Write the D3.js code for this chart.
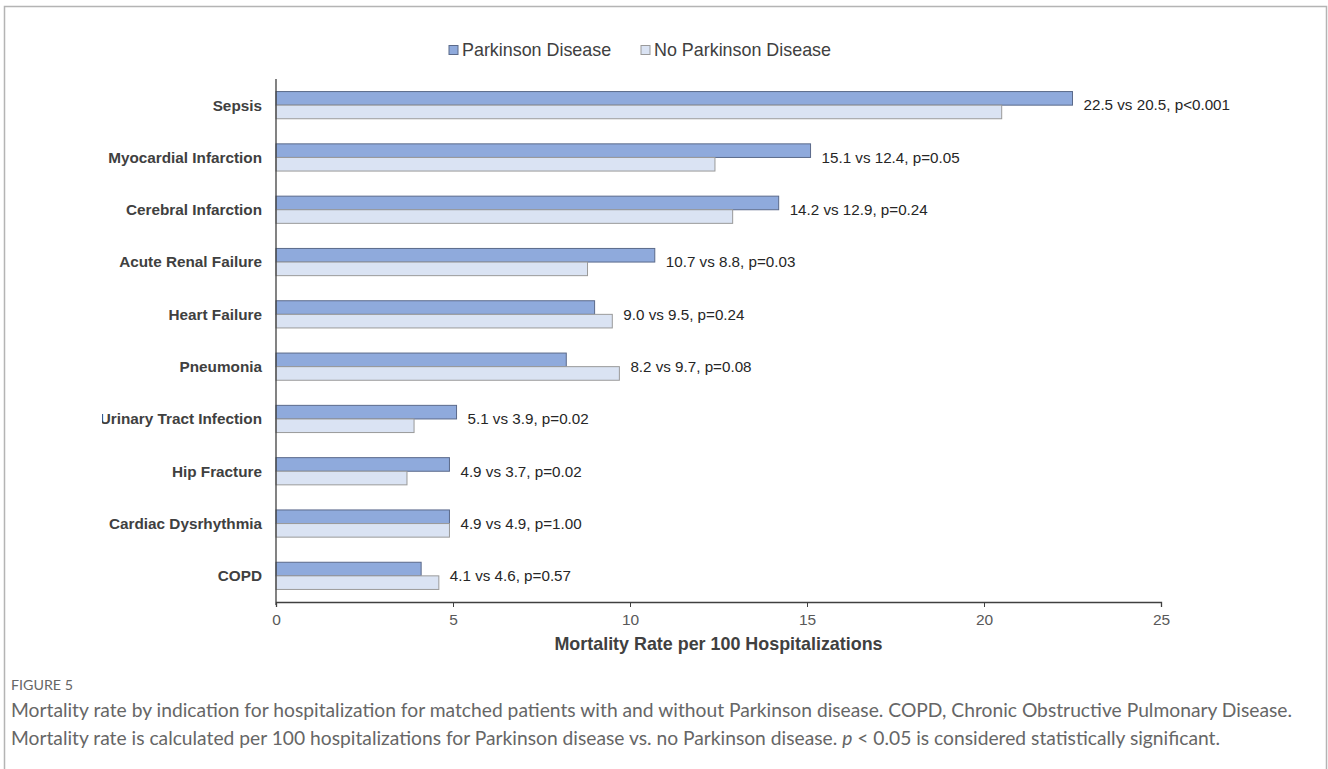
<!DOCTYPE html>
<html><head><meta charset="utf-8">
<script src="https://cdnjs.cloudflare.com/ajax/libs/d3/7.8.5/d3.min.js"></script>
<style>
html,body{margin:0;padding:0;background:#fff;}
svg{display:block;}
</style></head>
<body>
<script>
const categories = ["Sepsis","Myocardial Infarction","Cerebral Infarction","Acute Renal Failure","Heart Failure","Pneumonia","Urinary Tract Infection","Hip Fracture","Cardiac Dysrhythmia","COPD"];
const parkinson = [22.5,15.1,14.2,10.7,9.0,8.2,5.1,4.9,4.9,4.1];
const noParkinson = [20.5,12.4,12.9,8.8,9.5,9.7,3.9,3.7,4.9,4.6];
const pValues = ["p<0.001","p=0.05","p=0.24","p=0.03","p=0.24","p=0.08","p=0.02","p=0.02","p=1.00","p=0.57"];
const seriesNames = ["Parkinson Disease","No Parkinson Disease"];
const xTicks = [0,5,10,15,20,25];
const axisTitle = "Mortality Rate per 100 Hospitalizations";
const figureLabel = "FIGURE 5";
const captionLines = [
  "Mortality rate by indication for hospitalization for matched patients with and without Parkinson disease. COPD, Chronic Obstructive Pulmonary Disease.",
  "Mortality rate is calculated per 100 hospitalizations for Parkinson disease vs. no Parkinson disease. "
];

const W = 1328, H = 769;
const svg = d3.select("body").append("svg").attr("width", W).attr("height", H);

// frame
svg.append("path").attr("d", `M4.5,${H} V6.5 H1326.5 V${H}`).attr("fill","none").attr("stroke","#b4b4b4").attr("stroke-width",1.5);

const x = d3.scaleLinear().domain([0,25]).range([276,1161]);
const y = d3.scaleBand().domain(categories).range([79,602]).paddingInner(0.48).paddingOuter(0.24);
const sub = d3.scaleBand().domain([0,1]).range([0,y.bandwidth()]);

const colors = ["#8faadc","#dae3f3"];
const strokes = ["#5b6a8a","#9a9a9a"];

svg.append("defs").append("clipPath").attr("id","lblclip")
  .append("rect").attr("x",102).attr("y",0).attr("width",W).attr("height",H);

const font = "Arial, 'Liberation Sans', sans-serif";

// bars
const series = [parkinson, noParkinson];
series.forEach((vals, si) => {
  svg.append("g").selectAll("rect").data(categories).join("rect")
    .attr("x", x(0))
    .attr("y", (c) => y(c) + sub(si))
    .attr("width", (c,i) => x(vals[i]) - x(0))
    .attr("height", sub.bandwidth())
    .attr("fill", colors[si])
    .attr("stroke", strokes[si]).attr("stroke-width", 1);
});

// value labels
svg.append("g").selectAll("text").data(categories).join("text")
  .attr("x", (c,i) => x(Math.max(parkinson[i], noParkinson[i])) + 11)
  .attr("y", (c) => y(c) + y.bandwidth()/2)
  .attr("dy","0.35em")
  .attr("font-family", font).attr("font-size", 15.2).attr("fill","#262626")
  .text((c,i) => `${parkinson[i].toFixed(1)} vs ${noParkinson[i].toFixed(1)}, ${pValues[i]}`);

// category labels
svg.append("g").attr("clip-path","url(#lblclip)").selectAll("text").data(categories).join("text")
  .attr("x", 262)
  .attr("y", (c) => y(c) + y.bandwidth()/2)
  .attr("dy","0.35em")
  .attr("text-anchor","end")
  .attr("font-family", font).attr("font-size", 15.3).attr("font-weight","bold").attr("fill","#404040")
  .text(c => c);

// axes
const xAxis = svg.append("g").attr("transform","translate(0,602)")
  .call(d3.axisBottom(x).tickValues(xTicks).tickSize(5).tickPadding(7).tickFormat(d3.format("d")));
xAxis.select(".domain").attr("stroke","#404040").attr("stroke-width",1.3);
xAxis.selectAll(".tick line").attr("stroke","#404040");
xAxis.selectAll(".tick text").attr("font-family", font).attr("font-size", 15.5).attr("fill","#595959");

svg.append("line").attr("x1",x(0)).attr("x2",x(0)).attr("y1",79).attr("y2",605)
  .attr("stroke","#404040").attr("stroke-width",1.3);

svg.append("text").attr("x",(x(0)+x(25))/2).attr("y",650).attr("text-anchor","middle")
  .attr("font-family",font).attr("font-size",17.9).attr("font-weight","bold").attr("fill","#404040")
  .text(axisTitle);

// legend
const legend = svg.append("g");
const legX = [449, 641];
seriesNames.forEach((n, i) => {
  legend.append("rect").attr("x", legX[i]).attr("y", 45.5).attr("width", 9).attr("height", 9)
    .attr("fill", colors[i]).attr("stroke", strokes[i]).attr("stroke-width", 1);
  legend.append("text").attr("x", legX[i] + 13).attr("y", 50).attr("dy","0.35em")
    .attr("font-family", font).attr("font-size", 17.9).attr("fill","#404040").text(n);
});

// caption
const capFont = "Lato, 'Open Sans', sans-serif";
svg.append("text").attr("x",11).attr("y",690).attr("font-family",capFont).attr("font-size",14)
  .attr("fill","#666").attr("textLength",62).attr("lengthAdjust","spacingAndGlyphs").text(figureLabel);
svg.append("text").attr("x",11).attr("y",717).attr("font-family",capFont).attr("font-size",19)
  .attr("fill","#666").attr("textLength",1281).attr("lengthAdjust","spacingAndGlyphs").text(captionLines[0]);
const l2 = svg.append("text").attr("x",11).attr("y",745).attr("font-family",capFont).attr("font-size",19)
  .attr("fill","#666").attr("textLength",1209).attr("lengthAdjust","spacingAndGlyphs");
l2.append("tspan").text(captionLines[1]);
l2.append("tspan").attr("font-style","italic").text("p");
l2.append("tspan").text(" < 0.05 is considered statistically significant.");
</script>
</body></html>
